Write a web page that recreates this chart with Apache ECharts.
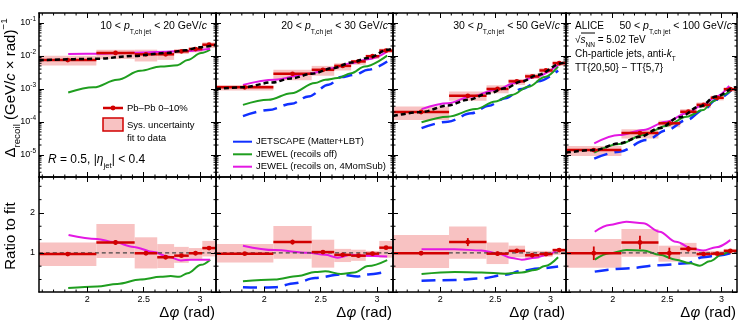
<!DOCTYPE html>
<html>
<head>
<meta charset="utf-8">
<script src="https://cdn.jsdelivr.net/npm/echarts@6/dist/echarts.min.js"></script>
<style>
  html, body { margin: 0; padding: 0; background: #fff; }
  #chart { width: 747px; height: 334px; }
</style>
</head>
<body>
<div id="chart"></div>
<script>
const FONT = "'Liberation Sans', Arial, Helvetica, sans-serif";
const RED = '#d10000';
const PINK = '#f8c2c2';
const MAGENTA = '#e318e3';
const GREEN = '#1f9e1f';
const BLUE = '#1030ff';

// shared delta-phi binning
const binEdges = [1.5708, 2.08, 2.42, 2.62, 2.77, 2.90, 3.02, 3.1416];
const phiCenters = [1.826, 2.25, 2.52, 2.695, 2.835, 2.96, 3.08];
const phiMinorTicks = [1.6, 1.7, 1.8, 1.9, 2.1, 2.2, 2.3, 2.4, 2.6, 2.7, 2.8, 2.9, 3.1];
const ratioMinorTicks = [0.333, 0.667, 1.333, 1.667, 2.333, 2.667];
const logDecades = [-6, -5, -4, -3, -2, -1];
const logMantissas = [2, 3, 4, 5, 6, 7, 8, 9];
const ptLow = ['10', '20', '30', '50'];
const ptHigh = ['20', '30', '50', '100'];

// ---- 10 < pT < 20
const p1Data = [7.5e-3, 1.23e-2, 1.12e-2, 1.12e-2, 1.38e-2, 1.62e-2, 2.19e-2];
const p1SysLo = [5.1e-3, 8.1e-3, 6.8e-3, 7.6e-3, 1.15e-2, 1.29e-2, 1.74e-2];
const p1SysHi = [1.02e-2, 1.55e-2, 1.55e-2, 1.38e-2, 1.62e-2, 1.82e-2, 2.57e-2];
const p1FitPhi = [1.5708, 2.086, 2.41, 2.70, 2.87, 2.99, 3.1416];
const p1Fit = [7.4e-3, 8.2e-3, 1.0e-2, 1.23e-2, 1.48e-2, 1.82e-2, 2.19e-2];
const p1OnPhi = [1.83, 2.086, 2.41, 2.70, 2.87, 3.09];
const p1On = [1.15e-2, 1.17e-2, 1.26e-2, 1.35e-2, 1.41e-2, 1.66e-2];
const p1OffPhi = [1.83, 2.056, 2.265, 2.47, 2.65, 2.80, 2.89, 3.01, 3.09];
const p1Off = [7.8e-4, 1.12e-3, 1.9e-3, 3.55e-3, 4.8e-3, 5.2e-3, 7.6e-3, 1.23e-2, 1.55e-2];
const p1Ratio = [0.97, 1.26, 0.99, 0.89, 0.93, 0.99, 1.12];
const p1RatioErr = [0.03, 0.06, 0.04, 0.04, 0.03, 0.03, 0.04];
const p1RSysLo = [0.67, 0.87, 0.61, 0.62, 0.75, 0.85, 0.91];
const p1RSysHi = [1.26, 1.72, 1.39, 1.22, 1.15, 1.12, 1.30];
const p1ROnPhi = [1.833, 2.086, 2.235, 2.41, 2.59, 2.71, 2.83, 2.92, 3.09];
const p1ROn = [1.45, 1.35, 1.27, 1.15, 1.02, 0.91, 0.81, 0.83, 0.83];
const p1ROffPhi = [1.83, 2.086, 2.265, 2.47, 2.65, 2.74, 2.815, 2.89, 3.01, 3.09];
const p1ROff = [0.12, 0.16, 0.22, 0.33, 0.40, 0.42, 0.40, 0.49, 0.70, 0.83];

// ---- 20 < pT < 30
const p2Data = [1.12e-3, 2.88e-3, 3.8e-3, 5.0e-3, 6.8e-3, 9.8e-3, 1.45e-2];
const p2SysLo = [8.9e-4, 1.82e-3, 2.51e-3, 3.63e-3, 5.4e-3, 8.1e-3, 1.23e-2];
const p2SysHi = [1.32e-3, 3.8e-3, 5.0e-3, 6.0e-3, 7.6e-3, 1.1e-2, 1.66e-2];
const p2FitPhi = [1.5708, 1.81, 2.07, 2.24, 2.42, 2.61, 2.77, 2.92, 3.10, 3.1416];
const p2Fit = [1.0e-3, 1.12e-3, 1.58e-3, 2.09e-3, 2.88e-3, 4.27e-3, 6.3e-3, 8.7e-3, 1.55e-2, 1.66e-2];
const p2OnPhi = [1.81, 2.09, 2.39, 2.60, 2.77, 2.92, 3.09];
const p2On = [1.33e-3, 1.9e-3, 2.88e-3, 4.27e-3, 6.0e-3, 7.9e-3, 1.35e-2];
const p2OffPhi = [1.81, 2.035, 2.24, 2.45, 2.54, 2.65, 2.77, 2.89, 3.09];
const p2Off = [3.3e-4, 4.7e-4, 7.4e-4, 1.51e-3, 1.9e-3, 2.14e-3, 3.0e-3, 4.8e-3, 1.02e-2];
const p2JsPhi = [1.81, 2.035, 2.24, 2.39, 2.57, 2.68, 2.80, 2.92, 3.09];
const p2Js = [1.51e-4, 2.29e-4, 3.55e-4, 5.9e-4, 1.33e-3, 2.29e-3, 2.69e-3, 3.8e-3, 6.8e-3];
const p2Ratio = [0.98, 1.27, 1.02, 0.95, 0.93, 0.98, 1.13];
const p2RatioErr = [0.03, 0.06, 0.04, 0.04, 0.03, 0.03, 0.04];
const p2RSysLo = [0.76, 0.85, 0.63, 0.77, 0.80, 0.90, 0.88];
const p2RSysHi = [1.22, 1.67, 1.33, 1.10, 1.08, 1.05, 1.30];
const p2ROnPhi = [1.81, 2.09, 2.39, 2.54, 2.65, 2.77, 2.89, 3.09];
const p2ROn = [1.18, 1.07, 1.0, 0.95, 0.88, 0.95, 0.93, 0.91];
const p2ROffPhi = [1.81, 2.09, 2.30, 2.45, 2.54, 2.68, 2.80, 2.92, 3.09];
const p2ROff = [0.29, 0.33, 0.42, 0.52, 0.54, 0.47, 0.51, 0.67, 0.82];
const p2RJsPhi = [1.81, 1.98, 2.09, 2.27, 2.45, 2.68, 2.83, 2.92, 3.09];
const p2RJs = [0.14, 0.13, 0.14, 0.24, 0.37, 0.46, 0.41, 0.46, 0.53];

// ---- 30 < pT < 50
const p3Data = [2.0e-4, 6.2e-4, 1.0e-3, 1.7e-3, 2.4e-3, 3.63e-3, 6.0e-3];
const p3SysLo = [1.15e-4, 4.4e-4, 7.4e-4, 1.32e-3, 2.0e-3, 3.0e-3, 5.0e-3];
const p3SysHi = [2.95e-4, 8.3e-4, 1.29e-3, 2.0e-3, 2.88e-3, 4.27e-3, 7.1e-3];
const p3FitPhi = [1.5708, 1.83, 2.07, 2.25, 2.44, 2.59, 2.74, 2.89, 3.10, 3.1416];
const p3Fit = [1.51e-4, 2.0e-4, 3.16e-4, 4.7e-4, 7.4e-4, 1.05e-3, 1.7e-3, 2.69e-3, 6.0e-3, 6.8e-3];
const p3OnPhi = [1.83, 2.07, 2.28, 2.50, 2.68, 2.86, 3.07];
const p3On = [2.45e-4, 3.7e-4, 5.9e-4, 9.3e-4, 1.51e-3, 2.29e-3, 5.4e-3];
const p3OffPhi = [1.83, 2.07, 2.32, 2.50, 2.65, 2.80, 2.95, 3.07];
const p3Off = [9.8e-5, 1.45e-4, 2.45e-4, 4.2e-4, 6.6e-4, 1.17e-3, 2.29e-3, 4.8e-3];
const p3JsPhi = [1.83, 2.07, 2.28, 2.44, 2.59, 2.74, 2.89, 3.07];
const p3Js = [6.5e-5, 1.02e-4, 1.82e-4, 3.1e-4, 5.2e-4, 1.0e-3, 1.7e-3, 3.63e-3];
const p3Ratio = [0.99, 1.27, 0.98, 1.05, 0.94, 0.97, 1.07];
const p3RatioErr = [0.04, 0.10, 0.05, 0.05, 0.04, 0.03, 0.04];
const p3RSysLo = [0.62, 0.85, 0.72, 0.89, 0.85, 0.90, 0.95];
const p3RSysHi = [1.45, 1.66, 1.26, 1.18, 1.05, 1.05, 1.10];
const p3ROnPhi = [1.83, 2.13, 2.375, 2.53, 2.65, 2.74, 2.86, 2.98, 3.07];
const p3ROn = [1.09, 1.09, 1.06, 0.98, 0.87, 0.83, 0.88, 0.96, 1.09];
const p3ROffPhi = [1.83, 2.13, 2.375, 2.59, 2.74, 2.86, 2.95, 3.07];
const p3ROff = [0.47, 0.52, 0.51, 0.48, 0.51, 0.57, 0.67, 0.89];
const p3RJsPhi = [1.83, 2.13, 2.375, 2.59, 2.74, 2.89, 3.07];
const p3RJs = [0.30, 0.32, 0.36, 0.45, 0.55, 0.61, 0.66];

// ---- 50 < pT < 100
const p4Data = [1.41e-5, 4.6e-5, 9.1e-5, 2.04e-4, 3.3e-4, 5.4e-4, 9.8e-4];
const p4SysLo = [9.3e-6, 3.16e-5, 6.9e-5, 1.62e-4, 2.63e-4, 4.5e-4, 8.3e-4];
const p4SysHi = [1.86e-5, 6.0e-5, 1.1e-4, 2.45e-4, 3.9e-4, 6.2e-4, 1.12e-3];
const p4FitPhi = [1.5708, 1.83, 2.06, 2.25, 2.43, 2.61, 2.80, 2.95, 3.13, 3.1416];
const p4Fit = [1.17e-5, 1.41e-5, 2.24e-5, 3.55e-5, 6.5e-5, 1.38e-4, 2.95e-4, 5.9e-4, 1.12e-3, 1.15e-3];
const p4OnPhi = [1.83, 2.06, 2.28, 2.49, 2.68, 2.83, 2.95, 3.07];
const p4On = [2.24e-5, 4.0e-5, 5.75e-5, 1.02e-4, 1.82e-4, 3.3e-4, 5.9e-4, 1.23e-3];
const p4OffPhi = [1.83, 2.06, 2.28, 2.49, 2.68, 2.83, 2.92, 3.01, 3.09];
const p4Off = [1.17e-5, 2.14e-5, 4.0e-5, 7.6e-5, 1.45e-4, 2.29e-4, 4.2e-4, 6.6e-4, 9.3e-4];
const p4JsPhi = [1.83, 2.06, 2.31, 2.49, 2.68, 2.83, 2.95, 3.09];
const p4Js = [7.8e-6, 1.26e-5, 2.82e-5, 5.5e-5, 1.15e-4, 2.29e-4, 4.7e-4, 9.3e-4];
const p4Ratio = [0.99, 1.26, 0.99, 1.10, 0.97, 0.98, 1.05];
const p4RatioErr = [0.17, 0.17, 0.14, 0.07, 0.04, 0.03, 0.03];
const p4RSysLo = [0.63, 0.90, 0.78, 0.90, 0.90, 0.93, 0.97];
const p4RSysHi = [1.35, 1.60, 1.18, 1.25, 1.05, 1.05, 1.10];
const p4ROnPhi = [1.835, 1.97, 2.125, 2.28, 2.43, 2.58, 2.74, 2.83, 2.95, 3.08];
const p4ROn = [1.53, 1.70, 1.78, 1.74, 1.53, 1.28, 1.10, 1.06, 1.14, 1.32];
const p4ROffPhi = [1.835, 1.97, 2.125, 2.28, 2.43, 2.58, 2.71, 2.80, 2.89, 3.01, 3.08];
const p4ROff = [0.83, 0.99, 1.07, 1.06, 0.95, 0.83, 0.74, 0.68, 0.79, 0.97, 1.07];
const p4RJsPhi = [1.835, 2.125, 2.43, 2.68, 2.83, 2.95, 3.08];
const p4RJs = [0.53, 0.61, 0.69, 0.74, 0.89, 0.93, 0.99];

// layout (pixels)
const panelLeft = [39, 216, 393, 566];
const panelRight = [216, 393, 566, 737];
const TOP = 13, MID = 177, BOT = 292;
const PHI_MIN = 1.5708, PHI_MAX = 3.1416;
const LOG_MIN = 2.15e-6, LOG_MAX = 0.2;
const R_MIN = 0.02, R_MAX = 2.9;

const panels = [
  { data: p1Data, sysLo: p1SysLo, sysHi: p1SysHi, fit: [p1FitPhi, p1Fit], on: [p1OnPhi, p1On], off: [p1OffPhi, p1Off], js: null,
    ratio: p1Ratio, err: p1RatioErr, rLo: p1RSysLo, rHi: p1RSysHi, rOn: [p1ROnPhi, p1ROn], rOff: [p1ROffPhi, p1ROff], rJs: null },
  { data: p2Data, sysLo: p2SysLo, sysHi: p2SysHi, fit: [p2FitPhi, p2Fit], on: [p2OnPhi, p2On], off: [p2OffPhi, p2Off], js: [p2JsPhi, p2Js],
    ratio: p2Ratio, err: p2RatioErr, rLo: p2RSysLo, rHi: p2RSysHi, rOn: [p2ROnPhi, p2ROn], rOff: [p2ROffPhi, p2ROff], rJs: [p2RJsPhi, p2RJs] },
  { data: p3Data, sysLo: p3SysLo, sysHi: p3SysHi, fit: [p3FitPhi, p3Fit], on: [p3OnPhi, p3On], off: [p3OffPhi, p3Off], js: [p3JsPhi, p3Js],
    ratio: p3Ratio, err: p3RatioErr, rLo: p3RSysLo, rHi: p3RSysHi, rOn: [p3ROnPhi, p3ROn], rOff: [p3ROffPhi, p3ROff], rJs: [p3RJsPhi, p3RJs] },
  { data: p4Data, sysLo: p4SysLo, sysHi: p4SysHi, fit: [p4FitPhi, p4Fit], on: [p4OnPhi, p4On], off: [p4OffPhi, p4Off], js: [p4JsPhi, p4Js],
    ratio: p4Ratio, err: p4RatioErr, rLo: p4RSysLo, rHi: p4RSysHi, rOn: [p4ROnPhi, p4ROn], rOff: [p4ROffPhi, p4ROff], rJs: [p4RJsPhi, p4RJs] }
];

const zip = (xs, ys) => xs.map((x, k) => [x, ys[k]]);

const grids = [], xAxes = [], yAxes = [], series = [];

function frameAxis(extra) {
  return Object.assign({
    z: 10,
    splitLine: { show: false },
    axisLine: { show: true, onZero: false, lineStyle: { color: '#000', width: 1.5 } },
    axisTick: { show: true, inside: true, length: 5, lineStyle: { color: '#000', width: 1 } },
    minorTick: { show: false }
  }, extra);
}

const phiLabel = v => {
  for (const t of [2, 2.5, 3]) if (Math.abs(v - t) < 1e-6) return String(t);
  return '';
};
const logLabel = v => {
  const e = Math.log10(v);
  if (Math.abs(e - Math.round(e)) > 1e-4) return '';
  return '{b|10}{s|' + Math.round(e) + '}';
};
const ratioLabel = v => (Math.abs(v - 1) < 1e-6 ? '1' : Math.abs(v - 2) < 1e-6 ? '2' : '');

function addGrid(i, isTop) {
  const g = grids.length;
  grids.push({
    left: panelLeft[i], width: panelRight[i] - panelLeft[i],
    top: isTop ? TOP : MID, height: isTop ? MID - TOP : BOT - MID,
    outerBoundsMode: 'none', containLabel: false
  });
  const xBase = { type: 'value', gridIndex: g, min: PHI_MIN, max: PHI_MAX, splitNumber: 3 };
  xAxes.push(frameAxis(Object.assign({}, xBase, {
    position: 'bottom',
    axisLabel: (!isTop) ? { show: true, formatter: phiLabel, showMinLabel: false, showMaxLabel: false,
      color: '#000', fontSize: 9, fontFamily: FONT, margin: 3 } : { show: false }
  })));
  xAxes.push(frameAxis(Object.assign({}, xBase, { position: 'top', axisLabel: { show: false } })));
  const yBase = isTop
    ? { type: 'log', logBase: 10, gridIndex: g, min: LOG_MIN, max: LOG_MAX, splitNumber: 5 }
    : { type: 'value', gridIndex: g, min: R_MIN, max: R_MAX, splitNumber: 3 };
  const yLabel = i === 0 ? (isTop
    ? { show: true, formatter: logLabel, showMinLabel: false, showMaxLabel: false, margin: 3, color: '#000',
        rich: { b: { fontSize: 9, fontFamily: FONT, lineHeight: 14, color: '#000' },
                s: { fontSize: 6.5, fontFamily: FONT, lineHeight: 7, verticalAlign: 'top', color: '#000' } } }
    : { show: true, formatter: ratioLabel, showMinLabel: false, showMaxLabel: false, margin: 4, color: '#000',
        fontSize: 9, fontFamily: FONT })
    : { show: false };
  yAxes.push(frameAxis(Object.assign({}, yBase, { position: 'left', axisLabel: yLabel })));
  yAxes.push(frameAxis(Object.assign({}, yBase, { position: 'right', axisLabel: { show: false } })));
  return 2 * g;
}

function minorTicks(ax, isTop) {
  const yRef = isTop ? 1e-3 : 1;
  const yVals = [];
  if (isTop) logDecades.forEach(d => logMantissas.forEach(m => {
    const v = m * Math.pow(10, d);
    if (v > LOG_MIN && v < LOG_MAX) yVals.push(v);
  }));
  else ratioMinorTicks.forEach(v => yVals.push(v));
  return {
    type: 'custom', xAxisIndex: ax, yAxisIndex: ax, z: 11, silent: true, animation: false,
    data: [[2, yRef]],
    renderItem: (params, api) => {
      const cs = params.coordSys;
      const kids = [];
      const st = { stroke: '#000', lineWidth: 1 };
      const seg = (x1, y1, x2, y2) => kids.push({ type: 'line', shape: { x1, y1, x2, y2 }, style: st });
      phiMinorTicks.forEach(v => {
        const px = api.coord([v, yRef])[0];
        seg(px, cs.y + cs.height, px, cs.y + cs.height - 2.5);
        seg(px, cs.y, px, cs.y + 2.5);
      });
      yVals.forEach(v => {
        const py = api.coord([2, v])[1];
        seg(cs.x, py, cs.x + 2.5, py);
        seg(cs.x + cs.width, py, cs.x + cs.width - 2.5, py);
      });
      return { type: 'group', children: kids };
    }
  };
}

function boxes(ax, lo, hi) {
  return {
    type: 'custom', xAxisIndex: ax, yAxisIndex: ax, z: 1, silent: true, animation: false,
    encode: { x: [0, 1], y: [2, 3] },
    data: lo.map((v, k) => [binEdges[k], binEdges[k + 1], v, hi[k]]),
    renderItem: (params, api) => {
      const a = api.coord([api.value(0), api.value(3)]);
      const b = api.coord([api.value(1), api.value(2)]);
      return { type: 'rect', shape: { x: a[0], y: a[1], width: b[0] - a[0], height: b[1] - a[1] }, style: { fill: PINK } };
    }
  };
}

function points(ax, vals, errs) {
  return {
    type: 'custom', xAxisIndex: ax, yAxisIndex: ax, z: 4, silent: true, animation: false,
    encode: { x: [0, 2, 3], y: [1, 4, 5] },
    data: vals.map((v, k) => [phiCenters[k], v, binEdges[k], binEdges[k + 1],
      errs ? v - errs[k] : v, errs ? v + errs[k] : v]),
    renderItem: (params, api) => {
      const c = api.coord([api.value(0), api.value(1)]);
      const l = api.coord([api.value(2), api.value(1)]);
      const r = api.coord([api.value(3), api.value(1)]);
      const kids = [{ type: 'line', shape: { x1: l[0], y1: c[1], x2: r[0], y2: c[1] }, style: { stroke: RED, lineWidth: 2.5 } }];
      if (api.value(4) !== api.value(5)) {
        const t = api.coord([api.value(0), api.value(5)]);
        const b = api.coord([api.value(0), api.value(4)]);
        kids.push({ type: 'line', shape: { x1: c[0], y1: t[1], x2: c[0], y2: b[1] }, style: { stroke: RED, lineWidth: 1.8 } });
      }
      kids.push({ type: 'circle', shape: { cx: c[0], cy: c[1], r: 2.4 }, style: { fill: RED } });
      return { type: 'group', children: kids };
    }
  };
}

function curve(ax, xy, color, width, dash, z) {
  return {
    type: 'line', xAxisIndex: ax, yAxisIndex: ax, z, silent: true, animation: false,
    data: zip(xy[0], xy[1]), showSymbol: false, symbol: 'none',
    smooth: 0.35, smoothMonotone: 'x',
    lineStyle: { color, width, type: dash || 'solid', cap: 'butt' }
  };
}

panels.forEach((p, i) => {
  const at = addGrid(i, true);
  series.push(boxes(at, p.sysLo, p.sysHi));
  if (p.js) series.push(curve(at, p.js, BLUE, 2.5, [14, 7], 2));
  series.push(curve(at, p.off, GREEN, 2, null, 2));
  series.push(curve(at, p.on, MAGENTA, 2, null, 2));
  series.push(points(at, p.data, null));
  series.push(curve(at, p.fit, '#000', 2.5, [5, 3], 5));
  series.push(minorTicks(at, true));

  const ab = addGrid(i, false);
  series.push(boxes(ab, p.rLo, p.rHi));
  series.push(curve(ab, [[PHI_MIN, PHI_MAX], [1, 1]], '#444', 1.3, [4, 3], 3));
  if (p.rJs) series.push(curve(ab, p.rJs, BLUE, 2.5, [14, 7], 2));
  series.push(curve(ab, p.rOff, GREEN, 2, null, 2));
  series.push(curve(ab, p.rOn, MAGENTA, 2, null, 2));
  series.push(points(ab, p.ratio, p.err));
  series.push(minorTicks(ab, false));
});

// ---- text helpers (rich text with sub/superscripts)
function rich(size) {
  const f = (st, s) => st + ' ' + s + 'px ' + FONT;
  const lh = Math.round(size + 8);
  const small = Math.round(size * 0.65 * 10) / 10;
  return {
    n: { font: f('normal', size), lineHeight: lh, fill: '#000' },
    i: { font: f('italic', size), lineHeight: lh, fill: '#000' },
    sb: { font: f('normal', small), lineHeight: Math.ceil(small), verticalAlign: 'bottom', fill: '#000' },
    sp: { font: f('normal', small), lineHeight: Math.ceil(small), verticalAlign: 'top', fill: '#000' }
  };
}
function label(x, y, text, size, align, rotation) {
  return {
    type: 'text', x, y, rotation: rotation || 0, silent: true, z: 20,
    style: { text, rich: rich(size), font: 'normal ' + size + 'px ' + FONT, fill: '#000',
      align: align || 'left', verticalAlign: 'middle', legacy: false }
  };
}
function seg(x1, y1, x2, y2, color, width) {
  return { type: 'line', silent: true, z: 20, shape: { x1, y1, x2, y2 }, style: { stroke: color, lineWidth: width } };
}

const graphics = [];
// axis titles
graphics.push(label(11, 88, '{n|Δ}{sb|recoil}{n| (GeV/}{i|c}{n| × rad)}{sp|−1}', 15, 'center', Math.PI / 2));
graphics.push(label(11, 236, '{n|Ratio to fit}', 15, 'center', Math.PI / 2));
panels.forEach((p, i) => {
  graphics.push(label(panelRight[i] - 1, 313, '{n|Δ}{i|φ}{n| (rad)}', 15, 'right'));
  const rx = [207, 388, 560, 732][i];
  graphics.push(label(rx, 26, '{n|' + ptLow[i] + ' < }{i|p}{sb|T,ch jet}{n| < ' + ptHigh[i] + ' GeV/}{i|c}', 10.5, 'right'));
});
// panel 4 labels
graphics.push(label(575, 26, '{n|ALICE}', 10, 'left'));
graphics.push(label(575, 40, '{n|√}{i|s}{sb|NN}{n| = 5.02 TeV}', 10, 'left'));
graphics.push(seg(581, 33, 595, 33, '#000', 1));
graphics.push(label(575, 54, '{n|Ch-particle jets, anti-}{i|k}{sb|T}', 10, 'left'));
graphics.push({ type: 'text', x: 575, y: 68, silent: true, z: 20,
  style: { text: 'TT{20,50} − TT{5,7}', font: 'normal 10px ' + FONT, fill: '#000', align: 'left', verticalAlign: 'middle', legacy: false } });
// panel 1 legend
graphics.push(seg(103, 108, 123, 108, RED, 2.5));
graphics.push({ type: 'circle', silent: true, z: 20, shape: { cx: 113, cy: 108, r: 2.4 }, style: { fill: RED } });
graphics.push(label(127, 108, '{n|Pb–Pb 0–10%}', 9.5, 'left'));
graphics.push({ type: 'rect', silent: true, z: 20, shape: { x: 103, y: 118, width: 20, height: 13 },
  style: { fill: PINK, stroke: RED, lineWidth: 1.5 } });
graphics.push(label(127, 125, '{n|Sys. uncertainty}', 9.5, 'left'));
graphics.push(label(127, 138, '{n|fit to data}', 9.5, 'left'));
graphics.push(label(48, 160, '{i|R}{n| = 0.5, |}{i|η}{sb|jet}{n|| < 0.4}', 12, 'left'));
// panel 2 legend
[[141.7, BLUE, 'JETSCAPE (Matter+LBT)'], [154.3, GREEN, 'JEWEL (recoils off)'], [166.7, MAGENTA, 'JEWEL (recoils on, 4MomSub)']]
  .forEach(([y, c, t]) => {
    graphics.push(seg(233, y, 252, y, c, 2));
    graphics.push(label(256, y, '{n|' + t + '}', 9.5, 'left'));
  });

const chart = echarts.init(document.getElementById('chart'), null, { renderer: 'canvas' });
chart.setOption({
  animation: false,
  backgroundColor: '#fff',
  textStyle: { fontFamily: FONT },
  grid: grids,
  xAxis: xAxes,
  yAxis: yAxes,
  series,
  graphic: { elements: graphics }
});
</script>
</body>
</html>
